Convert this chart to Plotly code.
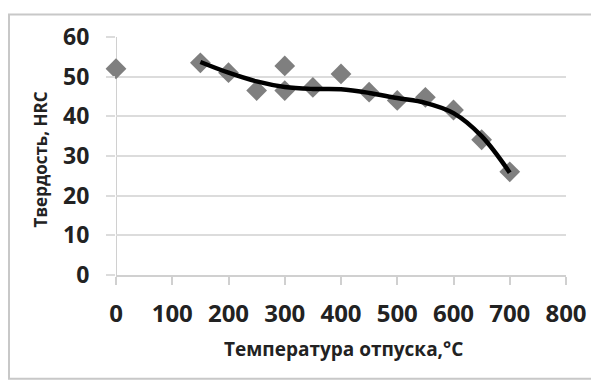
import plotly.graph_objects as go

# Data
temp_points = [0, 150, 200, 250, 300, 300, 350, 400, 450, 500, 550, 600, 650, 700]
hrc_points = [52, 53.5, 51, 46.5, 52.7, 46.5, 47.3, 50.7, 46.1, 44.0, 44.8, 41.6, 34.1, 26]

trend_temp = [150, 200, 250, 300, 350, 400, 450, 500, 550, 600, 650, 700]
trend_hrc = [53.7, 51.0, 48.8, 47.4, 46.9, 46.8, 45.9, 44.6, 43.4, 40.8, 35.0, 25.8]

x_ticks = [0, 100, 200, 300, 400, 500, 600, 700, 800]
y_ticks = [0, 10, 20, 30, 40, 50, 60]

# page body has an 8px margin; figure sized to fit the 599x383 window
OFF = 8
W, H = 599 - OFF, 383 - OFF
ml, mt = 116 - OFF, 32 - OFF
mr = W - (566 - OFF)
mb = H - (275 - OFF)
pw, ph = W - ml - mr, H - mt - mb

def px(xs):
    return (xs - OFF - ml) / pw

def py(ys):
    return (H - mb - (ys - OFF)) / ph

fig = go.Figure()
fig.add_trace(go.Scatter(
    x=temp_points, y=hrc_points, mode="markers",
    marker=dict(symbol="diamond", size=16, color="#7f7f7f"),
    showlegend=False, cliponaxis=False,
))
fig.add_trace(go.Scatter(
    x=trend_temp, y=trend_hrc, mode="lines",
    line=dict(color="#000000", width=4.5, shape="spline", smoothing=1),
    showlegend=False,
))

font_family = "Open Sans"
txt = "#222222"
fig.update_layout(
    width=W, height=H,
    margin=dict(l=ml, r=mr, t=mt, b=mb),
    paper_bgcolor="white", plot_bgcolor="white",
    font=dict(family=font_family, color=txt),
    xaxis=dict(
        range=[0, 800], tickvals=x_ticks, ticktext=[str(v) for v in x_ticks],
        showgrid=False, zeroline=False,
        showline=True, linecolor="#d0d0d0", linewidth=2,
        ticks="outside", ticklen=8, tickcolor="#d0d0d0", tickwidth=2,
        ticklabelstandoff=8,
        tickfont=dict(size=24, family=font_family, weight="bold", color=txt),
    ),
    yaxis=dict(
        range=[0, 60], tickvals=y_ticks, ticktext=[str(v) for v in y_ticks],
        showgrid=True, gridcolor="#dcdcdc", gridwidth=2,
        zeroline=False, showline=False,
        ticks="outside", ticklen=9, tickcolor="#dcdcdc", tickwidth=2,
        ticklabelstandoff=12,
        tickfont=dict(size=23, family=font_family, weight="bold", color=txt),
    ),
    annotations=[
        dict(text="Температура отпуска,°C", xref="paper", yref="paper",
             x=px(343), y=py(351), xanchor="center", yanchor="middle",
             showarrow=False,
             font=dict(size=19, family=font_family, weight="bold", color=txt)),
        dict(text="Твердость, HRC", xref="paper", yref="paper",
             x=px(40), y=py(157), xanchor="center", yanchor="middle",
             textangle=-90, showarrow=False,
             font=dict(size=17, family=font_family, weight="bold", color=txt)),
    ],
    shapes=[
        dict(type="line", xref="x", yref="paper", x0=0, x1=0, y0=0, y1=1,
             line=dict(color="#d0d0d0", width=2), layer="below"),
        dict(type="rect", xref="paper", yref="paper",
             x0=px(OFF + 1), x1=px(640), y0=py(381), y1=py(OFF + 1),
             line=dict(color="#c8c8c8", width=2), layer="below"),
    ],
)

fig.write_html("out.html")
